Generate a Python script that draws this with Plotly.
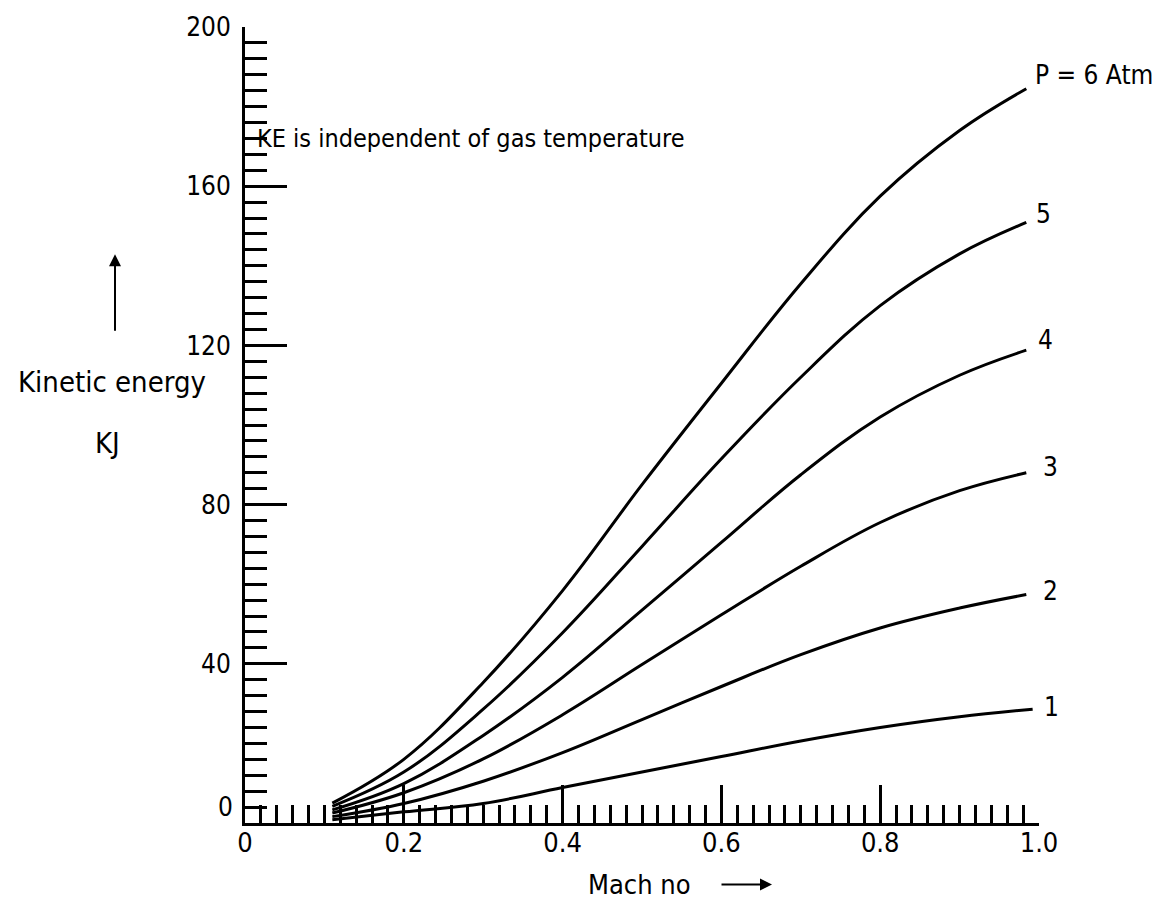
import plotly.graph_objects as go

# ---- data ----
mach = [0.11, 0.2, 0.3, 0.4, 0.5, 0.6, 0.7, 0.8, 0.9, 0.984]
mach_p1 = [0.11, 0.2, 0.3, 0.4, 0.5, 0.6, 0.7, 0.8, 0.9, 0.992]
ke_p1 = [0.8, 2.8, 4.9, 8.9, 12.8, 16.7, 20.6, 24.0, 26.7, 28.6]
ke_p2 = [1.6, 4.9, 10.5, 17.7, 26.0, 34.3, 42.3, 49.0, 54.0, 57.4]
ke_p3 = [2.5, 7.6, 16.1, 27.2, 39.8, 52.3, 64.5, 75.5, 83.5, 88.0]
ke_p4 = [3.3, 9.9, 22.0, 36.6, 53.5, 70.5, 87.5, 102.0, 112.5, 118.8]
ke_p5 = [4.2, 12.8, 28.6, 47.8, 69.5, 91.5, 112.0, 130.0, 143.0, 150.9]
ke_p6 = [5.0, 16.0, 35.3, 58.4, 85.0, 110.5, 135.5, 157.5, 174.0, 184.5]
curve_labels = ["1", "2", "3", "4", "5", "P = 6 Atm"]

y_ticks = [40, 80, 120, 160, 200]
x_ticks = [0, 0.2, 0.4, 0.6, 0.8, 1.0]
x_ticktext = ["0", "0.2", "0.4", "0.6", "0.8", "1.0"]

FONT = "Liberation Sans Narrow, DejaVu Sans Condensed, Roboto Condensed, Liberation Sans, sans-serif"
FS = 25

fig = go.Figure()
series = [(mach_p1, ke_p1), (mach, ke_p2), (mach, ke_p3), (mach, ke_p4), (mach, ke_p5), (mach, ke_p6)]
for xs, ys in series:
    fig.add_trace(go.Scatter(x=xs, y=ys, mode="lines",
                             line=dict(color="black", width=3, shape="spline", smoothing=1.1),
                             showlegend=False, hoverinfo="skip"))

# curve labels at end of each curve (x axis range is [0, 1], so paper x == data x)
label_offsets = [(0.012, 0.5), (0.018, 1.0), (0.018, 1.5), (0.012, 2.5), (0.010, 2.0), (0.008, 3.5)]
for (xs, ys), lab, (dx, dy) in zip(series, curve_labels, label_offsets):
    fig.add_annotation(xref="paper", yref="y", x=xs[-1] + dx, y=ys[-1] + dy, text=lab,
                       showarrow=False, xanchor="left", yanchor="middle",
                       font=dict(family=FONT, size=FS + 1, color="black"))

# KE note
fig.add_annotation(x=0.012, y=172, text="KE is independent of gas temperature", showarrow=False,
                   xanchor="left", yanchor="middle", font=dict(family=FONT, size=FS, color="black"))

# y tick "0" placed slightly above the axis like the reference
fig.add_annotation(xref="paper", x=0, y=4, text="0", showarrow=False, xanchor="right",
                   yanchor="middle", xshift=-10, font=dict(family=FONT, size=FS + 1, color="black"))

# y axis title and arrow
fig.add_annotation(xref="paper", yref="paper", x=(112 - 245) / 794, y=(823 - 379) / 802,
                   text="Kinetic energy", showarrow=False, xanchor="center", yanchor="middle",
                   font=dict(family=FONT, size=FS + 4, color="black"))
fig.add_annotation(xref="paper", yref="paper", x=(107 - 245) / 794, y=(823 - 440) / 802,
                   text="KJ", showarrow=False, xanchor="center", yanchor="middle",
                   font=dict(family=FONT, size=FS + 4, color="black"))
fig.add_annotation(xref="paper", yref="paper", x=(115 - 245) / 794, y=(823 - 250) / 802,
                   ax=0, ay=78, text="", showarrow=True, arrowhead=2, arrowsize=1.2,
                   arrowwidth=2, arrowcolor="black")

# x axis title and arrow
fig.add_annotation(xref="paper", yref="paper", x=(639 - 245) / 794, y=(823 - 885) / 802,
                   text="Mach no", showarrow=False, xanchor="center", yanchor="middle",
                   font=dict(family=FONT, size=FS + 2, color="black"))
fig.add_annotation(xref="paper", yref="paper", x=(772 - 245) / 794, y=(823 - 885) / 802,
                   ax=-52, ay=0, text="", showarrow=True, arrowhead=2, arrowsize=1.2,
                   arrowwidth=2, arrowcolor="black")

fig.update_layout(
    width=1163, height=915,
    margin=dict(l=245, r=124, t=21, b=92),
    paper_bgcolor="white", plot_bgcolor="white",
    showlegend=False,
    font=dict(family=FONT, size=FS, color="black"),
)
fig.update_xaxes(range=[0, 1.0], showgrid=False, zeroline=False,
                 showline=True, linecolor="black", linewidth=3,
                 ticks="inside", ticklen=38, tickwidth=2.5, tickcolor="black",
                 tickvals=x_ticks, ticktext=x_ticktext, ticklabelstandoff=-6,
                 tickfont=dict(family=FONT, size=FS + 2, color="black"),
                 minor=dict(ticks="inside", ticklen=18, tickwidth=2.5, tickcolor="black",
                            dtick=0.02, tick0=0, showgrid=False))
fig.update_yaxes(range=[0, 200], showgrid=False, zeroline=False,
                 showline=True, linecolor="black", linewidth=3,
                 ticks="inside", ticklen=42, tickwidth=2.5, tickcolor="black",
                 tickvals=y_ticks, ticklabelstandoff=6,
                 tickfont=dict(family=FONT, size=FS + 1, color="black"),
                 minor=dict(ticks="inside", ticklen=22, tickwidth=2.5, tickcolor="black",
                            dtick=4, tick0=0, showgrid=False))

fig.write_html("out.html")
